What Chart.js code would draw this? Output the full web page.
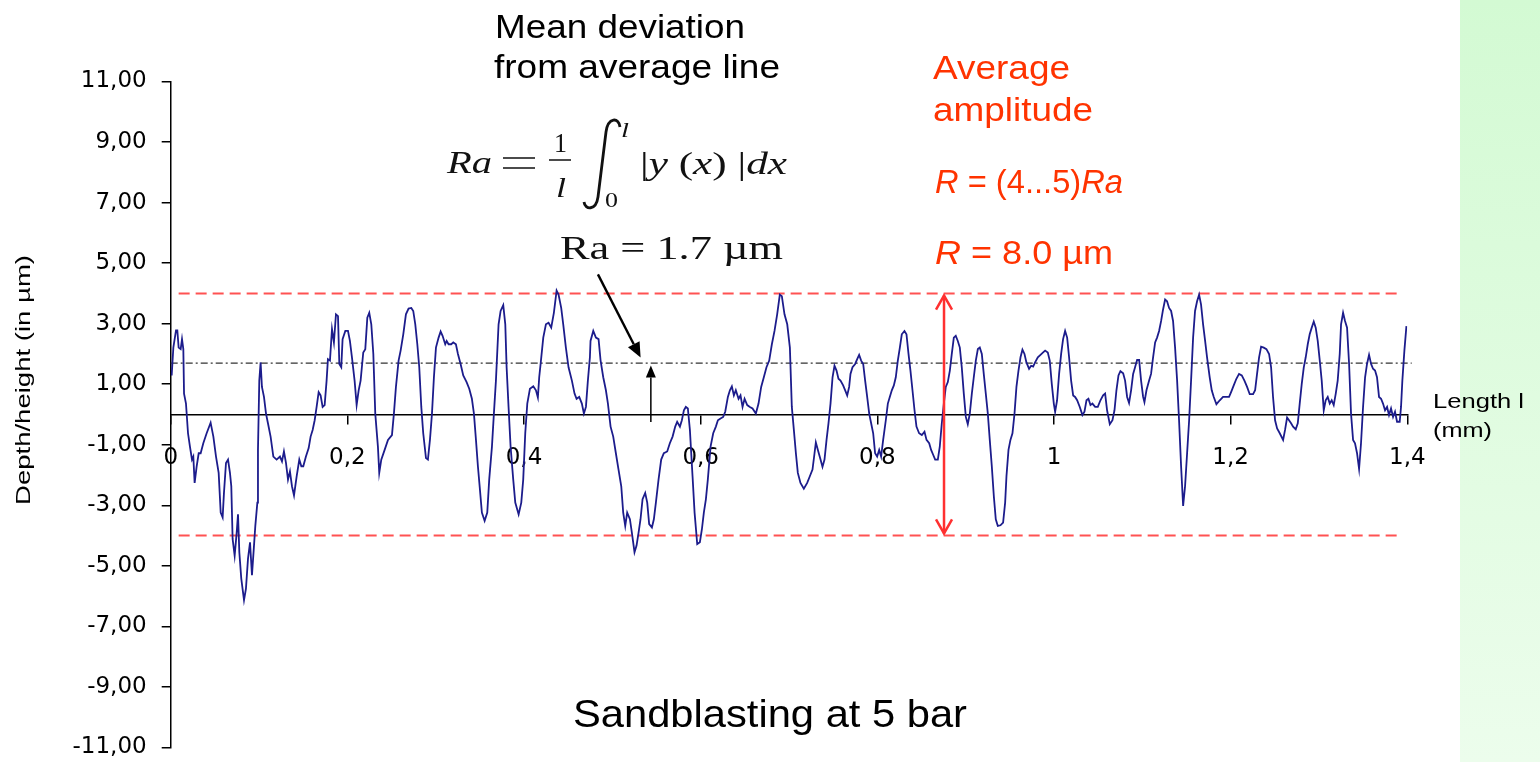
<!DOCTYPE html>
<html>
<head>
<meta charset="utf-8">
<script src="https://cdn.jsdelivr.net/npm/chart.js@4"></script>
<style>
  html, body { margin: 0; padding: 0; background: #fff; }
  #wrap { width: 1540px; height: 762px; position: relative; }
</style>
</head>
<body>
<div id="wrap"><canvas id="profile"></canvas></div>
<script>
// surface profile, sandblasting at 5 bar: position along the sample (mm) and height (µm)
const lengthMm = [
  0.0011,0.0030,0.0060,0.0075,0.0090,0.0113,0.0128,0.0143,0.0151,0.0173,0.0196,0.0218,0.0241,0.0256,0.0271,0.0294,
  0.0317,0.0339,0.0369,0.0407,0.0452,0.0483,0.0513,0.0543,0.0566,0.0588,0.0603,0.0626,0.0649,0.0671,0.0686,0.0701,
  0.0724,0.0747,0.0762,0.0777,0.0799,0.0830,0.0852,0.0875,0.0898,0.0920,0.0943,0.0958,0.0981,0.0988,0.1003,0.1018,
  0.1033,0.1056,0.1079,0.1101,0.1131,0.1162,0.1199,0.1237,0.1260,0.1282,0.1305,0.1328,0.1350,0.1373,0.1396,0.1426,
  0.1456,0.1479,0.1501,0.1531,0.1562,0.1584,0.1607,0.1630,0.1652,0.1675,0.1697,0.1720,0.1743,0.1765,0.1780,0.1803,
  0.1826,0.1848,0.1871,0.1894,0.1909,0.1931,0.1946,0.1977,0.2007,0.2029,0.2052,0.2082,0.2105,0.2128,0.2150,0.2180,
  0.2203,0.2226,0.2248,0.2271,0.2294,0.2316,0.2346,0.2361,
  0.2384,0.2422,0.2460,0.2505,0.2527,0.2550,0.2580,0.2603,0.2633,0.2663,0.2693,0.2724,0.2746,0.2769,0.2792,0.2814,
  0.2837,0.2859,0.2890,0.2912,0.2935,0.2958,0.2980,0.3003,0.3033,0.3056,0.3078,0.3108,0.3124,0.3146,0.3176,0.3199,
  0.3229,0.3252,0.3282,0.3312,0.3350,0.3380,0.3410,0.3433,0.3456,0.3478,0.3501,0.3523,0.3554,0.3584,0.3606,0.3637,
  0.3659,0.3682,0.3712,0.3735,0.3765,0.3788,0.3803,0.3825,0.3848,0.3878,0.3901,0.3939,0.3969,0.3991,0.4014,0.4037,
  0.4067,0.4105,0.4135,0.4157,0.4172,0.4188,0.4218,0.4248,0.4278,0.4308,0.4338,0.4369,0.4391,0.4421,0.4444,0.4474,
  0.4504,0.4542,0.4572,0.4595,0.4625,0.4655,0.4678,0.4701,0.4723,0.4746,
  0.4753,0.4784,0.4814,0.4844,0.4867,0.4897,0.4927,0.4950,0.4980,0.5010,0.5040,0.5070,0.5101,0.5123,0.5146,0.5168,
  0.5199,0.5221,0.5251,0.5274,0.5297,0.5319,0.5342,0.5372,0.5395,0.5417,0.5448,0.5470,0.5493,0.5523,0.5553,0.5583,
  0.5621,0.5651,0.5682,0.5712,0.5734,0.5765,0.5787,0.5810,0.5832,0.5855,0.5878,0.5908,0.5931,0.5961,0.5991,0.6014,
  0.6036,0.6059,0.6081,0.6112,0.6142,0.6172,0.6195,0.6225,0.6255,0.6278,0.6308,0.6331,0.6353,0.6376,0.6398,0.6429,
  0.6451,0.6474,0.6497,0.6527,0.6557,0.6587,0.6625,0.6655,0.6685,0.6715,0.6745,0.6776,0.6806,0.6836,0.6866,0.6896,
  0.6919,0.6949,0.6980,0.7010,0.7032,0.7055,
  0.7078,0.7100,0.7130,0.7168,0.7206,0.7236,0.7266,0.7289,0.7304,0.7327,0.7357,0.7379,0.7402,0.7425,0.7447,0.7470,
  0.7493,0.7515,0.7538,0.7560,0.7583,0.7613,0.7636,0.7659,0.7681,0.7696,0.7719,0.7749,0.7772,0.7794,0.7817,0.7840,
  0.7862,0.7885,0.7908,0.7930,0.7953,0.7975,0.7998,0.8021,0.8043,0.8066,0.8096,0.8119,0.8141,0.8164,0.8187,0.8209,
  0.8232,0.8255,0.8277,0.8307,0.8330,0.8353,0.8375,0.8398,0.8421,0.8443,0.8473,0.8504,0.8534,0.8557,0.8587,0.8609,
  0.8632,0.8655,0.8685,0.8707,0.8730,0.8753,0.8775,0.8798,0.8821,0.8843,0.8866,0.8888,0.8911,0.8934,0.8956,0.8979,
  0.9002,0.9024,0.9047,0.9070,0.9092,0.9115,0.9138,0.9160,0.9183,0.9205,0.9228,0.9251,0.9273,0.9296,0.9319,0.9341,
  0.9364,0.9394,
  0.9424,0.9447,0.9462,0.9485,0.9507,0.9530,0.9553,0.9575,0.9598,0.9621,0.9643,0.9666,0.9688,0.9718,0.9741,0.9764,
  0.9786,0.9817,0.9847,0.9877,0.9900,0.9930,0.9952,0.9975,0.9998,1.0013,1.0035,1.0058,1.0081,1.0103,1.0126,1.0149,
  1.0171,1.0194,1.0217,1.0239,1.0262,1.0292,1.0322,1.0345,1.0368,1.0390,1.0413,1.0435,1.0466,1.0496,1.0526,1.0556,
  1.0579,1.0601,1.0632,1.0662,1.0685,1.0707,1.0730,1.0752,1.0783,1.0805,1.0828,1.0850,1.0873,1.0896,1.0918,1.0941,
  1.0964,1.0986,1.1009,1.1024,1.1047,1.1077,1.1099,1.1122,1.1145,1.1167,1.1190,1.1213,1.1235,1.1258,1.1280,1.1303,
  1.1326,1.1348,1.1371,1.1394,1.1416,1.1439,1.1462,1.1484,1.1507,1.1530,1.1552,1.1575,1.1597,1.1620,1.1643,1.1665,
  1.1688,1.1711,1.1733,1.1763,
  1.1786,1.1809,1.1839,1.1877,1.1914,1.1952,1.1982,1.2005,1.2035,1.2065,1.2095,1.2126,1.2156,1.2186,1.2216,1.2254,
  1.2277,1.2299,1.2322,1.2345,1.2375,1.2405,1.2435,1.2458,1.2480,1.2503,1.2526,1.2556,1.2594,1.2616,1.2639,1.2661,
  1.2684,1.2707,1.2737,1.2760,1.2782,1.2805,1.2828,1.2850,1.2873,1.2895,1.2918,1.2941,1.2963,1.2986,1.3009,1.3031,
  1.3054,1.3076,1.3099,1.3122,1.3144,1.3167,1.3190,1.3212,1.3235,1.3250,1.3273,1.3295,1.3318,1.3341,1.3363,1.3386,
  1.3408,1.3431,1.3454,1.3476,1.3499,1.3522,1.3544,1.3567,1.3590,1.3612,1.3635,1.3657,1.3680,1.3703,1.3725,1.3748,
  1.3771,1.3793,1.3816,1.3839,1.3861,1.3884,1.3914,1.3929,1.3944,1.3967,1.3990
];
const heightUm = [
  1.29,2.21,2.78,2.78,2.21,2.16,2.49,2.16,0.69,0.36,-0.62,-1.06,-1.49,-1.39,-2.26,-1.71,
  -1.28,-1.28,-0.95,-0.62,-0.27,-0.73,-1.39,-1.93,-3.24,-3.40,-2.59,-1.60,-1.49,-1.93,-2.37,-4.11,
  -4.66,-3.90,-3.30,-4.55,-5.42,-6.13,-5.75,-4.77,-4.22,-5.31,-4.33,-3.68,-2.91,-1.17,1.12,1.72,
  0.91,0.58,0.03,-0.29,-0.73,-1.39,-1.49,-1.39,-1.55,-1.22,-1.60,-2.15,-1.88,-2.37,-2.67,-2.04,
  -1.49,-1.71,-1.71,-1.39,-1.11,-0.73,-0.51,-0.19,0.25,0.74,0.63,0.25,0.31,1.12,1.83,1.78,
  2.82,2.38,3.31,3.25,1.67,1.56,2.49,2.76,2.76,2.43,1.89,1.12,0.31,0.80,1.12,2.05,
  2.16,3.20,3.36,2.98,2.00,0.03,-1.06,-1.93,
  -1.49,-1.17,-0.84,-0.68,0.03,0.91,1.78,2.11,2.65,3.31,3.50,3.52,3.42,2.98,2.32,1.56,
  0.25,-0.62,-1.44,-1.49,-0.84,0.03,1.23,2.21,2.54,2.74,2.60,2.32,2.43,2.32,2.32,2.38,
  2.32,2.00,1.67,1.29,1.07,0.85,0.52,0.03,-0.84,-1.71,-2.48,-3.24,-3.51,-3.24,-2.15,-1.06,
  0.03,1.12,2.98,3.42,3.61,2.98,1.56,0.25,-1.06,-2.15,-2.91,-3.30,-2.91,-2.15,-0.62,0.36,
  0.85,0.93,0.80,0.56,1.23,1.67,2.54,2.98,3.03,2.87,3.36,4.09,3.96,3.52,2.98,2.21,
  1.56,1.12,0.69,0.52,0.58,0.36,0.03,0.25,1.12,1.89,
  2.43,2.76,2.54,2.49,1.78,1.23,0.80,0.36,-0.40,-0.73,-1.28,-1.82,-2.37,-3.24,-3.68,-3.24,
  -3.46,-3.90,-4.55,-4.33,-3.90,-3.46,-2.80,-2.59,-2.91,-3.62,-3.73,-3.46,-2.91,-2.15,-1.49,-1.28,
  -1.22,-0.95,-0.73,-0.40,-0.24,-0.40,-0.19,0.14,0.25,0.20,-0.51,-2.04,-3.24,-4.28,-4.22,-3.79,
  -3.24,-2.80,-2.15,-1.06,-0.62,-0.40,-0.19,-0.13,-0.08,0.09,0.58,0.80,0.93,0.63,0.80,0.52,
  0.63,0.25,0.52,0.31,0.25,0.20,0.03,0.36,0.91,1.23,1.56,1.78,2.32,2.76,3.31,3.96,
  3.91,3.31,2.98,2.21,0.25,-0.51,
  -1.28,-1.93,-2.26,-2.45,-2.26,-2.04,-1.82,-1.28,-0.92,-1.17,-1.49,-1.73,-1.49,-0.84,-0.29,0.36,
  1.23,1.61,1.45,1.18,1.12,0.96,0.80,0.63,0.91,1.34,1.56,1.67,1.83,1.97,1.78,1.67,
  1.12,0.58,0.03,-0.29,-0.62,-1.28,-1.39,-1.17,-1.39,-0.84,-0.19,0.36,0.58,0.80,0.96,1.23,
  1.78,2.21,2.65,2.76,2.65,2.00,1.45,0.80,0.14,-0.40,-0.62,-0.68,-0.57,-0.84,-0.95,-1.17,
  -1.33,-1.49,-1.49,-1.06,-0.29,0.36,0.91,1.07,1.45,2.00,2.54,2.60,2.43,2.21,1.56,0.69,
  -0.08,-0.32,0.03,0.69,1.23,1.78,2.16,2.21,2.00,1.34,0.69,0.03,-0.84,-1.71,-2.70,-3.46,
  -3.68,-3.66,
  -3.57,-2.91,-2.04,-1.17,-0.84,-0.62,0.03,0.91,1.45,1.89,2.14,2.00,1.72,1.51,1.61,1.58,
  1.72,1.89,1.97,2.05,2.11,2.05,1.78,1.01,0.36,0.09,0.47,1.34,2.00,2.49,2.76,2.54,
  1.89,1.12,0.63,0.58,0.47,0.25,-0.02,0.09,0.47,0.52,0.31,0.36,0.25,0.25,0.47,0.63,
  0.69,0.14,-0.32,-0.19,0.14,0.80,1.29,1.43,1.36,1.12,0.58,0.38,0.80,1.34,1.56,1.80,
  1.80,1.12,0.58,0.41,0.80,1.12,1.34,1.89,2.38,2.54,2.76,3.09,3.47,3.80,3.74,3.52,
  3.42,3.09,2.21,1.12,-0.19,-1.71,-3.02,-2.37,-1.28,-0.19,1.12,2.54,3.42,3.74,3.96,3.63,
  2.98,2.43,1.89,1.23,
  0.80,0.58,0.34,0.47,0.58,0.58,0.58,0.74,0.96,1.18,1.34,1.29,1.12,0.91,0.67,0.67,
  0.80,1.34,1.89,2.24,2.21,2.16,2.00,1.56,0.58,-0.19,-0.46,-0.62,-0.84,-0.51,-0.10,-0.19,
  -0.29,-0.40,-0.49,-0.29,0.36,1.01,1.56,1.89,2.32,2.65,2.87,3.07,2.87,2.43,1.78,1.12,
  0.14,0.47,0.58,0.36,0.47,0.31,0.69,1.12,2.00,2.98,3.36,3.09,2.87,1.67,0.03,-0.84,
  -0.95,-1.28,-1.80,-0.95,0.25,1.23,1.67,1.97,1.67,1.51,1.45,1.23,0.58,0.52,0.36,0.14,
  0.25,-0.02,0.20,-0.08,0.09,-0.24,-0.24,0.25,1.12,2.11,2.92
];

// axis ranges and ticks
const xRange = [0, 1.4];
const xStep = 0.2;
const yRange = [-11, 11];
const yStep = 2;

// annotation values (µm / mm)
const raValue = 1.7;              // mean deviation line
const rLimits = [4.0, -4.0];      // average amplitude band
const rLimitSpan = [0.009, 1.389];
const raLineSpan = [0, 1.405];
const rArrowX = 0.8755;
const rArrowEnds = [3.93, -3.93];
const raPointer = [[0.4837, 4.63], [0.532, 1.88]];
const raUpArrow = [[0.5436, -0.25], [0.5436, 1.62]];

const SANS = '"Liberation Sans", Arial, sans-serif';
const SERIF = '"Liberation Serif", "Times New Roman", serif';

function runs(ctx, parts, x, y, size, family, color, width) {
  ctx.save();
  let total = 0;
  parts.forEach(p => {
    ctx.font = (p[1] ? 'italic ' : '') + size + 'px ' + family;
    total += ctx.measureText(p[0]).width;
  });
  const sx = width ? width / total : 1;
  ctx.translate(x, y);
  ctx.scale(sx, 1);
  ctx.fillStyle = color;
  ctx.textAlign = 'left';
  ctx.textBaseline = 'alphabetic';
  let cx = 0;
  parts.forEach(p => {
    ctx.font = (p[1] ? 'italic ' : '') + size + 'px ' + family;
    ctx.fillText(p[0], cx, 0);
    cx += ctx.measureText(p[0]).width;
  });
  ctx.restore();
}

function arrow(ctx, x1, y1, x2, y2, head, wid, color, lw) {
  const a = Math.atan2(y2 - y1, x2 - x1);
  const bx = x2 - head * Math.cos(a), by = y2 - head * Math.sin(a);
  ctx.strokeStyle = color;
  ctx.fillStyle = color;
  ctx.lineWidth = lw;
  ctx.beginPath();
  ctx.moveTo(x1, y1);
  ctx.lineTo(bx, by);
  ctx.stroke();
  ctx.beginPath();
  ctx.moveTo(x2, y2);
  ctx.lineTo(bx + wid / 2 * Math.sin(a), by - wid / 2 * Math.cos(a));
  ctx.lineTo(bx - wid / 2 * Math.sin(a), by + wid / 2 * Math.cos(a));
  ctx.closePath();
  ctx.fill();
}

function chevron(ctx, x, y, dir, color) {
  ctx.beginPath();
  ctx.moveTo(x - 8, y + dir * 14);
  ctx.lineTo(x, y);
  ctx.lineTo(x + 8, y + dir * 14);
  ctx.strokeStyle = color;
  ctx.stroke();
}

const annotations = {
  id: 'annotations',
  beforeDraw(chart) {
    const {ctx, width, height} = chart;
    ctx.save();
    ctx.fillStyle = '#fff';
    ctx.fillRect(0, 0, width, height);
    const g = ctx.createLinearGradient(0, 0, 0, height);
    g.addColorStop(0, '#d3fad3');
    g.addColorStop(1, '#ecfdec');
    ctx.fillStyle = g;
    ctx.fillRect(1460, 0, width - 1460, height);
    ctx.restore();
  },
  beforeDatasetsDraw(chart) {
    const {ctx, scales: {x, y}} = chart;
    ctx.save();
    ctx.strokeStyle = '#ff5252';
    ctx.lineWidth = 2;
    ctx.setLineDash([11, 6]);
    rLimits.forEach(v => {
      ctx.beginPath();
      ctx.moveTo(x.getPixelForValue(rLimitSpan[0]), y.getPixelForValue(v));
      ctx.lineTo(x.getPixelForValue(rLimitSpan[1]), y.getPixelForValue(v));
      ctx.stroke();
    });
    ctx.strokeStyle = '#333';
    ctx.lineWidth = 1.3;
    ctx.setLineDash([7, 3, 2, 3]);
    ctx.beginPath();
    ctx.moveTo(x.getPixelForValue(raLineSpan[0]), y.getPixelForValue(raValue));
    ctx.lineTo(x.getPixelForValue(raLineSpan[1]), y.getPixelForValue(raValue));
    ctx.stroke();
    ctx.restore();
  },
  afterDatasetsDraw(chart) {
    const {ctx, scales: {x, y}} = chart;
    ctx.save();

    // red double arrow R
    const ax = x.getPixelForValue(rArrowX);
    const t = y.getPixelForValue(rArrowEnds[0]), b = y.getPixelForValue(rArrowEnds[1]);
    ctx.strokeStyle = '#ff3030';
    ctx.lineWidth = 2.5;
    ctx.beginPath();
    ctx.moveTo(ax, t);
    ctx.lineTo(ax, b);
    ctx.stroke();
    chevron(ctx, ax, t, 1, '#ff3030');
    chevron(ctx, ax, b, -1, '#ff3030');

    // Ra pointers
    arrow(ctx, x.getPixelForValue(raPointer[0][0]), y.getPixelForValue(raPointer[0][1]),
      x.getPixelForValue(raPointer[1][0]), y.getPixelForValue(raPointer[1][1]), 15, 13, '#000', 2.4);
    arrow(ctx, x.getPixelForValue(raUpArrow[0][0]), y.getPixelForValue(raUpArrow[0][1]),
      x.getPixelForValue(raUpArrow[1][0]), y.getPixelForValue(raUpArrow[1][1]), 12, 10, '#000', 1.5);

    // texts
    runs(ctx, [['Mean deviation']], 495, 38, 33, SANS, '#000', 250);
    runs(ctx, [['from average line']], 494, 78, 33, SANS, '#000', 286);
    runs(ctx, [['Average']], 933, 79, 33, SANS, '#ff3300', 137);
    runs(ctx, [['amplitude']], 933, 121, 33, SANS, '#ff3300', 160);
    runs(ctx, [['R', true], [' = (4...5)'], ['Ra', true]], 935, 193, 33, SANS, '#ff3300', 188);
    runs(ctx, [['R', true], [' = 8.0 \u00b5m']], 935, 264, 33, SANS, '#ff3300', 178);
    runs(ctx, [['Sandblasting at 5 bar']], 573, 727, 39, SANS, '#000', 394);
    runs(ctx, [['Length l']], 1433, 408, 21, SANS, '#000', 91);
    runs(ctx, [['(mm)']], 1433, 437, 21, SANS, '#000', 59);

    // formula Ra = 1/l ∫0^l |y(x)| dx
    const ink = '#111';
    runs(ctx, [['Ra', true]], 447, 173, 31, SERIF, ink, 45);
    ctx.strokeStyle = ink;
    ctx.lineWidth = 1.7;
    ctx.beginPath();
    ctx.moveTo(503, 158); ctx.lineTo(535, 158);
    ctx.moveTo(503, 168); ctx.lineTo(535, 168);
    ctx.moveTo(549, 160); ctx.lineTo(571, 160);
    ctx.stroke();
    runs(ctx, [['1']], 554, 152, 28, SERIF, ink, 13);
    runs(ctx, [['l', true]], 556, 197, 28, SERIF, ink, 10);
    ctx.lineWidth = 2.8;
    ctx.beginPath();
    ctx.moveTo(620, 127);
    ctx.bezierCurveTo(619, 117, 608, 117, 606, 132);
    ctx.lineTo(598, 197);
    ctx.bezierCurveTo(596, 211, 585, 210, 584, 202);
    ctx.stroke();
    runs(ctx, [['l', true]], 621, 137, 22, SERIF, ink, 8);
    runs(ctx, [['0']], 605, 207, 22, SERIF, ink, 13);
    runs(ctx, [['|'], ['y', true], [' ('], ['x', true], [') |'], ['dx', true]], 640, 174, 31, SERIF, ink, 147);
    runs(ctx, [['Ra = 1.7 \u00b5m']], 560, 259, 33, SERIF, ink, 223);

    // y axis title
    ctx.save();
    ctx.translate(22, 380);
    ctx.rotate(-Math.PI / 2);
    runs(ctx, [['Depth/height (in \u00b5m)']], -125, 7.5, 21, SANS, '#000', 250);
    ctx.restore();

    ctx.restore();
  }
};

const tickFont = {family: '"DejaVu Sans", Verdana, sans-serif', size: 23};

new Chart(document.getElementById('profile'), {
  type: 'line',
  data: {
    datasets: [{
      label: 'Profile',
      data: lengthMm.map((v, i) => ({x: v, y: heightUm[i]})),
      borderColor: '#1c1c8c',
      borderWidth: 1.8,
      pointRadius: 0,
      tension: 0,
      fill: false
    }]
  },
  options: {
    responsive: true,
    maintainAspectRatio: false,
    animation: false,
    devicePixelRatio: 1,
    layout: {padding: {left: 72.7, top: 81.5, right: 132.7, bottom: 0}},
    plugins: {legend: {display: false}, tooltip: {enabled: false}},
    scales: {
      x: {
        type: 'linear',
        position: {y: 0},
        min: xRange[0],
        max: xRange[1],
        border: {color: '#000', width: 1.5},
        grid: {drawOnChartArea: false, color: '#000', tickLength: 9, lineWidth: 1.5},
        ticks: {
          stepSize: xStep,
          padding: 21,
          color: '#000',
          font: tickFont,
          maxRotation: 0,
          callback: v => String(Math.round(v * 10) / 10).replace('.', ',')
        }
      },
      y: {
        min: yRange[0],
        max: yRange[1],
        afterFit: s => { s.width = 98; s.paddingBottom = 14.5; },
        border: {color: '#000', width: 1.5},
        grid: {drawOnChartArea: false, color: '#000', tickLength: 9, lineWidth: 1.5},
        ticks: {
          stepSize: yStep,
          padding: 15,
          color: '#000',
          font: tickFont,
          callback: v => v.toFixed(2).replace('.', ',')
        }
      }
    }
  },
  plugins: [annotations]
});
</script>
</body>
</html>
